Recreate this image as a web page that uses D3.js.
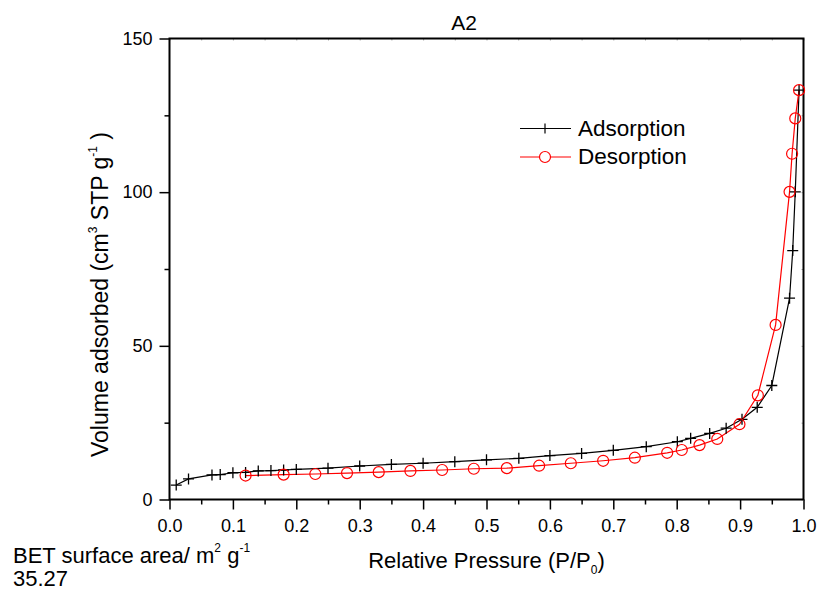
<!DOCTYPE html>
<html>
<head>
<meta charset="utf-8">
<script src="https://cdn.jsdelivr.net/npm/d3@7"></script>
<style>
  html, body { margin: 0; padding: 0; background: #fff; }
  svg { display: block; font-family: "Liberation Sans", Arial, sans-serif; }
</style>
</head>
<body>
<svg id="chart" width="818" height="590"></svg>
<script>
// ---- data ----
const adsorptionP = [0.0106, 0.030, 0.067, 0.080, 0.100, 0.120, 0.140, 0.160, 0.180, 0.200, 0.250, 0.300, 0.350, 0.400, 0.450, 0.500, 0.551, 0.600, 0.650, 0.700, 0.752, 0.801, 0.822, 0.852, 0.878, 0.903, 0.927, 0.950, 0.978, 0.983, 0.987, 0.993];
const adsorptionV = [4.7, 6.7, 8.0, 8.1, 8.7, 8.8, 9.3, 9.4, 9.6, 9.8, 10.2, 10.9, 11.4, 11.8, 12.3, 12.9, 13.4, 14.3, 15.0, 16.0, 17.2, 18.8, 19.9, 21.5, 23.2, 26.1, 30.0, 37.1, 65.5, 81.0, 100.1, 133.2];
const desorptionP = [0.120, 0.180, 0.230, 0.280, 0.330, 0.380, 0.430, 0.480, 0.532, 0.583, 0.633, 0.684, 0.734, 0.785, 0.808, 0.836, 0.864, 0.899, 0.928, 0.956, 0.978, 0.982, 0.987, 0.993];
const desorptionV = [7.8, 8.1, 8.3, 8.6, 8.9, 9.3, 9.6, 10.0, 10.2, 11.0, 11.8, 12.6, 13.6, 15.2, 16.1, 17.7, 19.7, 24.5, 33.9, 56.8, 100.1, 112.5, 124.0, 133.2];
const xTicks = [0.0, 0.1, 0.2, 0.3, 0.4, 0.5, 0.6, 0.7, 0.8, 0.9, 1.0];
const xMinorTicks = [0.05, 0.15, 0.25, 0.35, 0.45, 0.55, 0.65, 0.75, 0.85, 0.95];
const yTicks = [0, 50, 100, 150];
const yMinorTicks = [25, 75, 125];
const seriesNames = ["Adsorption", "Desorption"];
const chartTitle = "A2";
const betValue = "35.27";

// ---- layout ----
const svg = d3.select("#chart");
const pl = 169.5, pr = 803.5, pt = 38.5, pb = 499.5;
const x = d3.scaleLinear().domain([0, 1]).range([pl, pr]);
const y = d3.scaleLinear().domain([0, 150]).range([pb, pt]);

const ads = adsorptionP.map((p, i) => ({p, v: adsorptionV[i]}));
const des = desorptionP.map((p, i) => ({p, v: desorptionV[i]}));

// ---- axes ----
const gx = svg.append("g").attr("transform", `translate(0,${pb})`)
  .call(d3.axisBottom(x).tickValues(xTicks).tickFormat(d3.format(".1f")).tickSize(10).tickPadding(10));
const gxm = svg.append("g").attr("transform", `translate(0,${pb})`)
  .call(d3.axisBottom(x).tickValues(xMinorTicks).tickFormat("").tickSize(5));
const gy = svg.append("g").attr("transform", `translate(${pl},0)`)
  .call(d3.axisLeft(y).tickValues(yTicks).tickFormat(d3.format("d")).tickSize(10).tickPadding(7));
const gym = svg.append("g").attr("transform", `translate(${pl},0)`)
  .call(d3.axisLeft(y).tickValues(yMinorTicks).tickFormat("").tickSize(5));
const gt = svg.append("g").attr("transform", `translate(0,${pt})`)
  .call(d3.axisBottom(x).tickValues(xTicks.concat(xMinorTicks)).tickFormat("").tickSize(2));
const gr = svg.append("g").attr("transform", `translate(${pr},0)`)
  .call(d3.axisLeft(y).tickValues(yTicks.concat(yMinorTicks)).tickFormat("").tickSize(2));

[gx, gxm, gy, gym].forEach(g => {
  g.select(".domain").remove();
  g.selectAll(".tick line").attr("stroke", "#000").attr("stroke-width", 1.5);
  g.selectAll(".tick text").attr("fill", "#000").style("font-size", "18px").style("font-family", "'Liberation Sans', Arial, sans-serif");
});
[gt, gr].forEach(g => {
  g.select(".domain").remove();
  g.selectAll(".tick line").attr("stroke", "#aaa").attr("stroke-width", 1);
});

// frame
svg.append("rect").attr("x", pl).attr("y", pt).attr("width", pr - pl).attr("height", pb - pt)
  .attr("fill", "none").attr("stroke", "#000").attr("stroke-width", 2);

// ---- lines ----
const line = d3.line().x(d => x(d.p)).y(d => y(d.v)).curve(d3.curveLinear);
svg.append("path").datum(ads).attr("d", line).attr("fill", "none").attr("stroke", "#000").attr("stroke-width", 1.2);
svg.append("path").datum(des).attr("d", line).attr("fill", "none").attr("stroke", "#ff0000").attr("stroke-width", 1.2);

const cs = 5.5;
svg.append("g").selectAll("path").data(ads).join("path")
  .attr("d", d => `M${x(d.p) - cs},${y(d.v)}H${x(d.p) + cs}M${x(d.p)},${y(d.v) - cs}V${y(d.v) + cs}`)
  .attr("stroke", "#000").attr("stroke-width", 1.3).attr("fill", "none");
svg.append("g").selectAll("circle").data(des).join("circle")
  .attr("cx", d => x(d.p)).attr("cy", d => y(d.v)).attr("r", 5.5)
  .attr("fill", "none").attr("stroke", "#ff0000").attr("stroke-width", 1.2);

// ---- legend ----
const lg = svg.append("g");
const legendRows = [
  {name: seriesNames[0], color: "#000", marker: "cross", yy: 128.5, ty: 136},
  {name: seriesNames[1], color: "#ff0000", marker: "circle", yy: 157, ty: 164}
];
legendRows.forEach(r => {
  lg.append("line").attr("x1", 520).attr("x2", 571).attr("y1", r.yy).attr("y2", r.yy)
    .attr("stroke", r.color).attr("stroke-width", 1.2);
  if (r.marker === "cross") {
    lg.append("path").attr("d", `M${545 - 5},${r.yy}H${545 + 5}M545,${r.yy - 5}V${r.yy + 5}`)
      .attr("stroke", r.color).attr("stroke-width", 1.2);
  } else {
    lg.append("circle").attr("cx", 545).attr("cy", r.yy).attr("r", 5.5)
      .attr("fill", "#fff").attr("stroke", r.color).attr("stroke-width", 1.2);
  }
  lg.append("text").attr("x", 578).attr("y", r.ty).text(r.name)
    .style("font-size", "22.5px").attr("fill", "#000");
});

// ---- titles ----
svg.append("text").attr("x", 464).attr("y", 30).attr("text-anchor", "middle")
  .style("font-size", "21px").text(chartTitle);

const xt = svg.append("text").attr("x", (pl + pr) / 2).attr("y", 568).attr("text-anchor", "middle")
  .style("font-size", "22px");
xt.append("tspan").text("Relative Pressure (P/P");
xt.append("tspan").attr("dy", 6).style("font-size", "12px").text("0");
xt.append("tspan").attr("dy", -6).text(")");

const yt = svg.append("text").attr("transform", "translate(108,457) rotate(-90)")
  .attr("text-anchor", "start").style("font-size", "23px");
yt.append("tspan").text("Volume adsorbed (cm");
yt.append("tspan").attr("dy", -11).style("font-size", "12px").text("3");
yt.append("tspan").attr("dy", 11).text(" STP g");
yt.append("tspan").attr("dy", -11).style("font-size", "12px").text("-1");
yt.append("tspan").attr("dy", 11).text(" )");

// BET note: one text block, two lines
const bt = svg.append("text").attr("x", 13).attr("y", 563).style("font-size", "22px");
bt.append("tspan").text("BET surface area/ m");
bt.append("tspan").attr("dy", -11).style("font-size", "12px").text("2");
bt.append("tspan").attr("dy", 11).text(" g");
bt.append("tspan").attr("dy", -11).style("font-size", "12px").text("-1");
bt.append("tspan").attr("x", 13).attr("dy", 34).text(betValue);
</script>
</body>
</html>
